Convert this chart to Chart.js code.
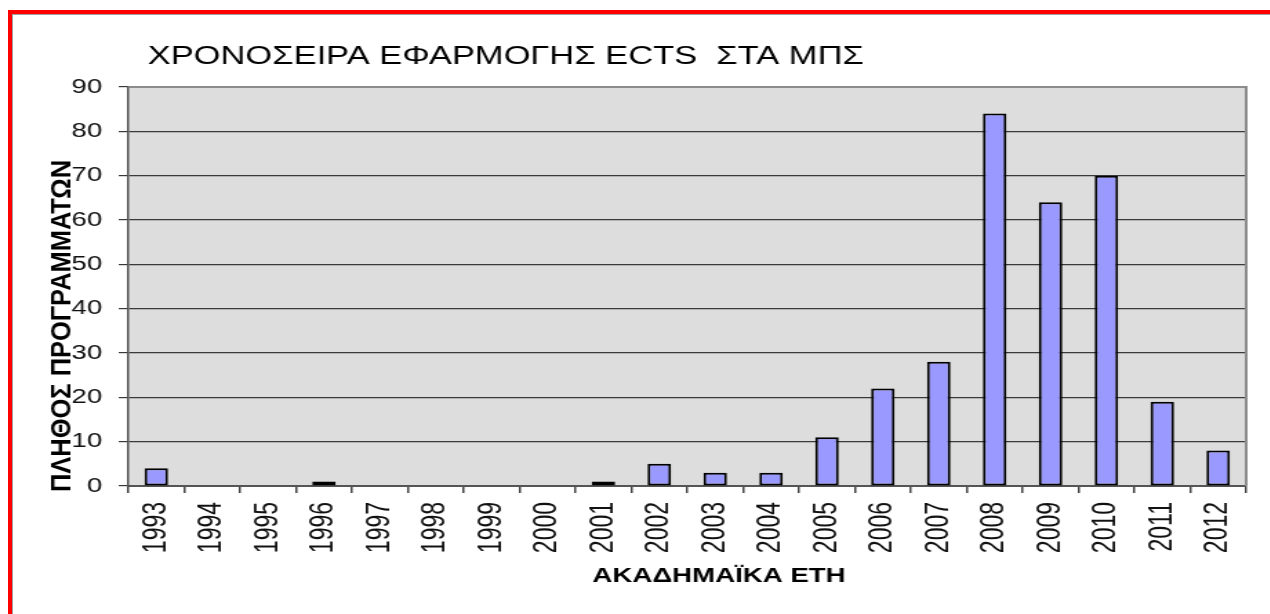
<!DOCTYPE html>
<html>
<head>
<meta charset="utf-8">
<script src="https://cdn.jsdelivr.net/npm/chart.js@4.4.1/dist/chart.umd.min.js"></script>
<style>
    html, body { margin: 0; padding: 0; background: #fff; overflow: hidden; }
    #frame { position: absolute; left: 8px; top: 10px; width: 1262px; height: 604px;
             border-top: 4px solid #ff0000; border-left: 4px solid #ff0000; box-sizing: border-box; }
    #frame .inner { position: absolute; left: 0; top: 0; right: 0; bottom: 0;
                    border-top: 1px solid #a0a0a0; border-left: 1px solid #a0a0a0; }
    #chartBox { position: absolute; left: 0; top: 0; width: 920px; height: 614px;
                transform: scaleX(1.38); transform-origin: 0 0; }
</style>
</head>
<body>
<div id="chartBox"><canvas id="ectsChart"></canvas></div>
<div id="frame"><div class="inner"></div></div>
<script>
    // chart data
    var years = ['1993', '1994', '1995', '1996', '1997', '1998', '1999', '2000', '2001', '2002',
        '2003', '2004', '2005', '2006', '2007', '2008', '2009', '2010', '2011', '2012'];
    var programCounts = [4, 0, 0, 1, 0, 0, 0, 0, 1, 5, 3, 3, 11, 22, 28, 84, 64, 70, 19, 8];
    var yTicks = [0, 10, 20, 30, 40, 50, 60, 70, 80, 90];

    var chartTitle = 'ΧΡΟΝΟΣΕΙΡΑ ΕΦΑΡΜΟΓΗΣ ECTS  ΣΤΑ ΜΠΣ';
    var xTitle = 'ΑΚΑΔΗΜΑΪΚΑ ΕΤΗ';
    var yTitle = 'ΠΛΗΘΟΣ ΠΡΟΓΡΑΜΜΑΤΩΝ';

    var FONT = '"Liberation Sans", Arial, sans-serif';

    // grey plot background + frame, and the three titles
    var excelLook = {
        id: 'excelLook',
        beforeDraw: function (chart) {
            var a = chart.chartArea, c = chart.ctx;
            c.save();
            c.fillStyle = '#dddddd';
            c.fillRect(a.left, a.top, a.right - a.left, a.bottom - a.top);
            c.restore();
        },
        afterDraw: function (chart) {
            var a = chart.chartArea, c = chart.ctx;
            c.save();
            c.strokeStyle = '#8c8c8c';
            c.lineWidth = 2;
            c.beginPath();
            c.moveTo(a.left, a.top);
            c.lineTo(a.right, a.top);
            c.lineTo(a.right, a.bottom);
            c.stroke();

            c.fillStyle = '#000';
            c.textBaseline = 'alphabetic';
            c.textAlign = 'left';
            c.font = '25px ' + FONT;
            c.fillText(chartTitle, 107, 64);

            c.font = 'bold 20px ' + FONT;
            c.textAlign = 'center';
            c.fillText(xTitle, 521, 582);

            c.translate(51, 326);
            c.rotate(-Math.PI / 2);
            var w = c.measureText(yTitle).width;
            c.scale(332 / w, 1);
            c.fillText(yTitle, 0, 0);
            c.restore();
        }
    };

    var ctx = document.getElementById('ectsChart').getContext('2d');
    var barChart = new Chart(ctx, {
        type: 'bar',
        data: {
            labels: years,
            datasets: [
                {
                    label: 'ECTS',
                    data: programCounts,
                    backgroundColor: '#9999ff',
                    borderColor: '#000000',
                    borderWidth: 2,
                    borderSkipped: false,
                    categoryPercentage: 1,
                    barPercentage: 0.42,
                },
            ]
        },
        options: {
            responsive: true,
            maintainAspectRatio: false,
            animation: false,
            layout: {
                padding: { top: 87, right: 17, left: 0, bottom: 0 }
            },
            plugins: {
                legend: { display: false },
                title: { display: false },
                tooltip: { enabled: false }
            },
            scales: {
                x: {
                    afterFit: function (scale) { scale.height = 128; },
                    grid: {
                        offset: true,
                        drawOnChartArea: false,
                        drawTicks: true,
                        tickLength: 7,
                        color: '#444444',
                        lineWidth: 1.5
                    },
                    border: { display: true, color: '#555555', width: 2 },
                    ticks: {
                        autoSkip: false,
                        minRotation: 90,
                        maxRotation: 90,
                        padding: 9,
                        color: '#111111',
                        font: { family: FONT, size: 23 }
                    }
                },
                y: {
                    min: 0,
                    max: 90,
                    afterFit: function (scale) { scale.width = 93; },
                    afterBuildTicks: function (scale) {
                        scale.ticks = yTicks.map(function (v) { return { value: v }; });
                    },
                    grid: {
                        color: '#3a3a3a',
                        lineWidth: 1.2,
                        drawTicks: true,
                        tickLength: 7
                    },
                    border: { display: true, color: '#555555', width: 1.5 },
                    ticks: {
                        padding: 12,
                        color: '#111111',
                        font: { family: FONT, size: 20 }
                    }
                }
            }
        },
        plugins: [excelLook]
    });
</script>
</body>
</html>
